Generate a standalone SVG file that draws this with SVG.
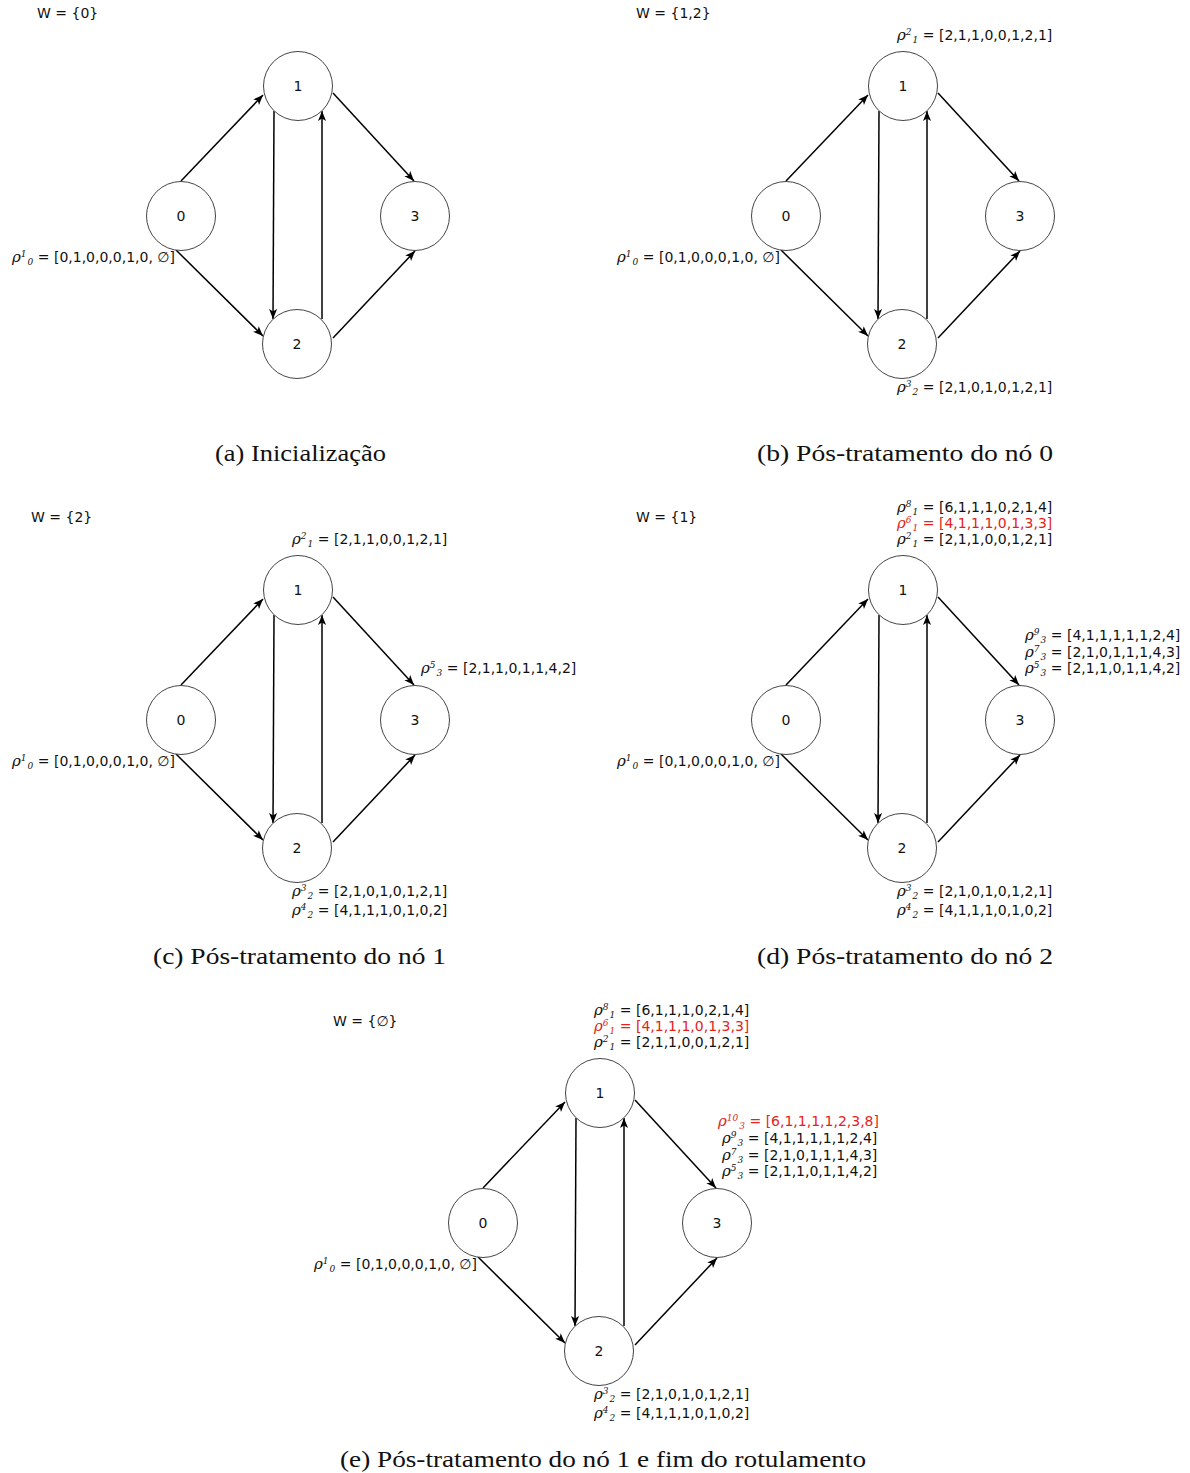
<svg xmlns="http://www.w3.org/2000/svg" width="1190" height="1473" viewBox="0 0 1190 1473">
<style>
.bg{fill:#fff}
.node circle{fill:#fff;stroke:#444;stroke-width:1}
.node text{font-family:"DejaVu Sans",sans-serif;font-size:14px;text-anchor:middle;fill:#111}
.edge{stroke:#000;stroke-width:1.5;fill:none;marker-end:url(#arr)}
.lbl{font-family:"DejaVu Sans",sans-serif;font-size:14px;fill:#111}
.red{fill:#e3231b}
.r{font-family:"DejaVu Serif",serif;font-style:italic;font-size:15px}
.s{font-family:"DejaVu Serif",serif;font-style:italic;font-size:9px}
.cap{font-family:"Liberation Serif","DejaVu Serif",serif;font-size:23px;fill:#111}
</style>
<defs>
<marker id="arr" markerUnits="userSpaceOnUse" markerWidth="11" markerHeight="9" refX="10" refY="4" orient="auto">
<path d="M0,0 L10,4 L0,8 L2.5,4 z" fill="#000"/>
</marker>
</defs>
<rect class="bg" width="1190" height="1473"/>

<!-- Panel a -->
<g id="panel-a">
<g id="a-edges">
<line class="edge" x1="181" y1="181" x2="263" y2="95"/>
<line class="edge" x1="333" y1="93" x2="414" y2="181"/>
<line class="edge" x1="176" y1="250" x2="263" y2="336"/>
<line class="edge" x1="333" y1="338" x2="415" y2="251"/>
<line class="edge" x1="274" y1="111" x2="273" y2="319"/>
<line class="edge" x1="322" y1="319" x2="322" y2="111"/>
</g>
<g id="a-n0" class="node"><circle cx="181" cy="216" r="34.5"/><text x="181" y="221">0</text></g>
<g id="a-n1" class="node"><circle cx="298" cy="86" r="34.5"/><text x="298" y="91">1</text></g>
<g id="a-n2" class="node"><circle cx="297" cy="344" r="34.5"/><text x="297" y="349">2</text></g>
<g id="a-n3" class="node"><circle cx="415" cy="216" r="34.5"/><text x="415" y="221">3</text></g>
<text class="lbl" x="37" y="18">W = {0}</text>
<text class="lbl" x="12" y="262"><tspan class="r">ρ</tspan><tspan class="s" dy="-5">1</tspan><tspan class="s" dy="8" dx="1">0</tspan><tspan dy="-3"> = [0,1,0,0,0,1,0, ∅]</tspan></text>
<text class="cap" x="215" y="461" textLength="171" lengthAdjust="spacingAndGlyphs">(a) Inicialização</text>
</g>

<!-- Panel b -->
<g id="panel-b">
<g id="b-edges" transform="translate(605,0)">
<line class="edge" x1="181" y1="181" x2="263" y2="95"/>
<line class="edge" x1="333" y1="93" x2="414" y2="181"/>
<line class="edge" x1="176" y1="250" x2="263" y2="336"/>
<line class="edge" x1="333" y1="338" x2="415" y2="251"/>
<line class="edge" x1="274" y1="111" x2="273" y2="319"/>
<line class="edge" x1="322" y1="319" x2="322" y2="111"/>
</g>
<g id="b-n0" class="node"><circle cx="786" cy="216" r="34.5"/><text x="786" y="221">0</text></g>
<g id="b-n1" class="node"><circle cx="903" cy="86" r="34.5"/><text x="903" y="91">1</text></g>
<g id="b-n2" class="node"><circle cx="902" cy="344" r="34.5"/><text x="902" y="349">2</text></g>
<g id="b-n3" class="node"><circle cx="1020" cy="216" r="34.5"/><text x="1020" y="221">3</text></g>
<text class="lbl" x="636" y="18">W = {1,2}</text>
<text class="lbl" x="897" y="40"><tspan class="r">ρ</tspan><tspan class="s" dy="-5">2</tspan><tspan class="s" dy="8" dx="1">1</tspan><tspan dy="-3"> = [2,1,1,0,0,1,2,1]</tspan></text>
<text class="lbl" x="617" y="262"><tspan class="r">ρ</tspan><tspan class="s" dy="-5">1</tspan><tspan class="s" dy="8" dx="1">0</tspan><tspan dy="-3"> = [0,1,0,0,0,1,0, ∅]</tspan></text>
<text class="lbl" x="897" y="392"><tspan class="r">ρ</tspan><tspan class="s" dy="-5">3</tspan><tspan class="s" dy="8" dx="1">2</tspan><tspan dy="-3"> = [2,1,0,1,0,1,2,1]</tspan></text>
<text class="cap" x="757" y="461" textLength="296" lengthAdjust="spacingAndGlyphs">(b) Pós-tratamento do nó 0</text>
</g>

<!-- Panel c -->
<g id="panel-c">
<g id="c-edges" transform="translate(0,504)">
<line class="edge" x1="181" y1="181" x2="263" y2="95"/>
<line class="edge" x1="333" y1="93" x2="414" y2="181"/>
<line class="edge" x1="176" y1="250" x2="263" y2="336"/>
<line class="edge" x1="333" y1="338" x2="415" y2="251"/>
<line class="edge" x1="274" y1="111" x2="273" y2="319"/>
<line class="edge" x1="322" y1="319" x2="322" y2="111"/>
</g>
<g id="c-n0" class="node"><circle cx="181" cy="720" r="34.5"/><text x="181" y="725">0</text></g>
<g id="c-n1" class="node"><circle cx="298" cy="590" r="34.5"/><text x="298" y="595">1</text></g>
<g id="c-n2" class="node"><circle cx="297" cy="848" r="34.5"/><text x="297" y="853">2</text></g>
<g id="c-n3" class="node"><circle cx="415" cy="720" r="34.5"/><text x="415" y="725">3</text></g>
<text class="lbl" x="31" y="522">W = {2}</text>
<text class="lbl" x="292" y="544"><tspan class="r">ρ</tspan><tspan class="s" dy="-5">2</tspan><tspan class="s" dy="8" dx="1">1</tspan><tspan dy="-3"> = [2,1,1,0,0,1,2,1]</tspan></text>
<text class="lbl" x="421" y="673"><tspan class="r">ρ</tspan><tspan class="s" dy="-5">5</tspan><tspan class="s" dy="8" dx="1">3</tspan><tspan dy="-3"> = [2,1,1,0,1,1,4,2]</tspan></text>
<text class="lbl" x="12" y="766"><tspan class="r">ρ</tspan><tspan class="s" dy="-5">1</tspan><tspan class="s" dy="8" dx="1">0</tspan><tspan dy="-3"> = [0,1,0,0,0,1,0, ∅]</tspan></text>
<text class="lbl" x="292" y="896"><tspan class="r">ρ</tspan><tspan class="s" dy="-5">3</tspan><tspan class="s" dy="8" dx="1">2</tspan><tspan dy="-3"> = [2,1,0,1,0,1,2,1]</tspan></text>
<text class="lbl" x="292" y="915"><tspan class="r">ρ</tspan><tspan class="s" dy="-5">4</tspan><tspan class="s" dy="8" dx="1">2</tspan><tspan dy="-3"> = [4,1,1,1,0,1,0,2]</tspan></text>
<text class="cap" x="153" y="964" textLength="293" lengthAdjust="spacingAndGlyphs">(c) Pós-tratamento do nó 1</text>
</g>

<!-- Panel d -->
<g id="panel-d">
<g id="d-edges" transform="translate(605,504)">
<line class="edge" x1="181" y1="181" x2="263" y2="95"/>
<line class="edge" x1="333" y1="93" x2="414" y2="181"/>
<line class="edge" x1="176" y1="250" x2="263" y2="336"/>
<line class="edge" x1="333" y1="338" x2="415" y2="251"/>
<line class="edge" x1="274" y1="111" x2="273" y2="319"/>
<line class="edge" x1="322" y1="319" x2="322" y2="111"/>
</g>
<g id="d-n0" class="node"><circle cx="786" cy="720" r="34.5"/><text x="786" y="725">0</text></g>
<g id="d-n1" class="node"><circle cx="903" cy="590" r="34.5"/><text x="903" y="595">1</text></g>
<g id="d-n2" class="node"><circle cx="902" cy="848" r="34.5"/><text x="902" y="853">2</text></g>
<g id="d-n3" class="node"><circle cx="1020" cy="720" r="34.5"/><text x="1020" y="725">3</text></g>
<text class="lbl" x="636" y="522">W = {1}</text>
<text class="lbl" x="897" y="512"><tspan class="r">ρ</tspan><tspan class="s" dy="-5">8</tspan><tspan class="s" dy="8" dx="1">1</tspan><tspan dy="-3"> = [6,1,1,1,0,2,1,4]</tspan></text>
<text class="lbl red" x="897" y="528"><tspan class="r">ρ</tspan><tspan class="s" dy="-5">6</tspan><tspan class="s" dy="8" dx="1">1</tspan><tspan dy="-3"> = [4,1,1,1,0,1,3,3]</tspan></text>
<text class="lbl" x="897" y="544"><tspan class="r">ρ</tspan><tspan class="s" dy="-5">2</tspan><tspan class="s" dy="8" dx="1">1</tspan><tspan dy="-3"> = [2,1,1,0,0,1,2,1]</tspan></text>
<text class="lbl" x="1025" y="640"><tspan class="r">ρ</tspan><tspan class="s" dy="-5">9</tspan><tspan class="s" dy="8" dx="1">3</tspan><tspan dy="-3"> = [4,1,1,1,1,1,2,4]</tspan></text>
<text class="lbl" x="1025" y="657"><tspan class="r">ρ</tspan><tspan class="s" dy="-5">7</tspan><tspan class="s" dy="8" dx="1">3</tspan><tspan dy="-3"> = [2,1,0,1,1,1,4,3]</tspan></text>
<text class="lbl" x="1025" y="673"><tspan class="r">ρ</tspan><tspan class="s" dy="-5">5</tspan><tspan class="s" dy="8" dx="1">3</tspan><tspan dy="-3"> = [2,1,1,0,1,1,4,2]</tspan></text>
<text class="lbl" x="617" y="766"><tspan class="r">ρ</tspan><tspan class="s" dy="-5">1</tspan><tspan class="s" dy="8" dx="1">0</tspan><tspan dy="-3"> = [0,1,0,0,0,1,0, ∅]</tspan></text>
<text class="lbl" x="897" y="896"><tspan class="r">ρ</tspan><tspan class="s" dy="-5">3</tspan><tspan class="s" dy="8" dx="1">2</tspan><tspan dy="-3"> = [2,1,0,1,0,1,2,1]</tspan></text>
<text class="lbl" x="897" y="915"><tspan class="r">ρ</tspan><tspan class="s" dy="-5">4</tspan><tspan class="s" dy="8" dx="1">2</tspan><tspan dy="-3"> = [4,1,1,1,0,1,0,2]</tspan></text>
<text class="cap" x="757" y="964" textLength="296" lengthAdjust="spacingAndGlyphs">(d) Pós-tratamento do nó 2</text>
</g>

<!-- Panel e -->
<g id="panel-e">
<g id="e-edges" transform="translate(302,1007)">
<line class="edge" x1="181" y1="181" x2="263" y2="95"/>
<line class="edge" x1="333" y1="93" x2="414" y2="181"/>
<line class="edge" x1="176" y1="250" x2="263" y2="336"/>
<line class="edge" x1="333" y1="338" x2="415" y2="251"/>
<line class="edge" x1="274" y1="111" x2="273" y2="319"/>
<line class="edge" x1="322" y1="319" x2="322" y2="111"/>
</g>
<g id="e-n0" class="node"><circle cx="483" cy="1223" r="34.5"/><text x="483" y="1228">0</text></g>
<g id="e-n1" class="node"><circle cx="600" cy="1093" r="34.5"/><text x="600" y="1098">1</text></g>
<g id="e-n2" class="node"><circle cx="599" cy="1351" r="34.5"/><text x="599" y="1356">2</text></g>
<g id="e-n3" class="node"><circle cx="717" cy="1223" r="34.5"/><text x="717" y="1228">3</text></g>
<text class="lbl" x="333" y="1026">W = {∅}</text>
<text class="lbl" x="594" y="1015"><tspan class="r">ρ</tspan><tspan class="s" dy="-5">8</tspan><tspan class="s" dy="8" dx="1">1</tspan><tspan dy="-3"> = [6,1,1,1,0,2,1,4]</tspan></text>
<text class="lbl red" x="594" y="1031"><tspan class="r">ρ</tspan><tspan class="s" dy="-5">6</tspan><tspan class="s" dy="8" dx="1">1</tspan><tspan dy="-3"> = [4,1,1,1,0,1,3,3]</tspan></text>
<text class="lbl" x="594" y="1047"><tspan class="r">ρ</tspan><tspan class="s" dy="-5">2</tspan><tspan class="s" dy="8" dx="1">1</tspan><tspan dy="-3"> = [2,1,1,0,0,1,2,1]</tspan></text>
<text class="lbl red" x="718" y="1126"><tspan class="r">ρ</tspan><tspan class="s" dy="-5">10</tspan><tspan class="s" dy="8" dx="1">3</tspan><tspan dy="-3"> = [6,1,1,1,1,2,3,8]</tspan></text>
<text class="lbl" x="722" y="1143"><tspan class="r">ρ</tspan><tspan class="s" dy="-5">9</tspan><tspan class="s" dy="8" dx="1">3</tspan><tspan dy="-3"> = [4,1,1,1,1,1,2,4]</tspan></text>
<text class="lbl" x="722" y="1160"><tspan class="r">ρ</tspan><tspan class="s" dy="-5">7</tspan><tspan class="s" dy="8" dx="1">3</tspan><tspan dy="-3"> = [2,1,0,1,1,1,4,3]</tspan></text>
<text class="lbl" x="722" y="1176"><tspan class="r">ρ</tspan><tspan class="s" dy="-5">5</tspan><tspan class="s" dy="8" dx="1">3</tspan><tspan dy="-3"> = [2,1,1,0,1,1,4,2]</tspan></text>
<text class="lbl" x="314" y="1269"><tspan class="r">ρ</tspan><tspan class="s" dy="-5">1</tspan><tspan class="s" dy="8" dx="1">0</tspan><tspan dy="-3"> = [0,1,0,0,0,1,0, ∅]</tspan></text>
<text class="lbl" x="594" y="1399"><tspan class="r">ρ</tspan><tspan class="s" dy="-5">3</tspan><tspan class="s" dy="8" dx="1">2</tspan><tspan dy="-3"> = [2,1,0,1,0,1,2,1]</tspan></text>
<text class="lbl" x="594" y="1418"><tspan class="r">ρ</tspan><tspan class="s" dy="-5">4</tspan><tspan class="s" dy="8" dx="1">2</tspan><tspan dy="-3"> = [4,1,1,1,0,1,0,2]</tspan></text>
<text class="cap" x="340" y="1467" textLength="526" lengthAdjust="spacingAndGlyphs">(e) Pós-tratamento do nó 1 e fim do rotulamento</text>
</g>
</svg>
